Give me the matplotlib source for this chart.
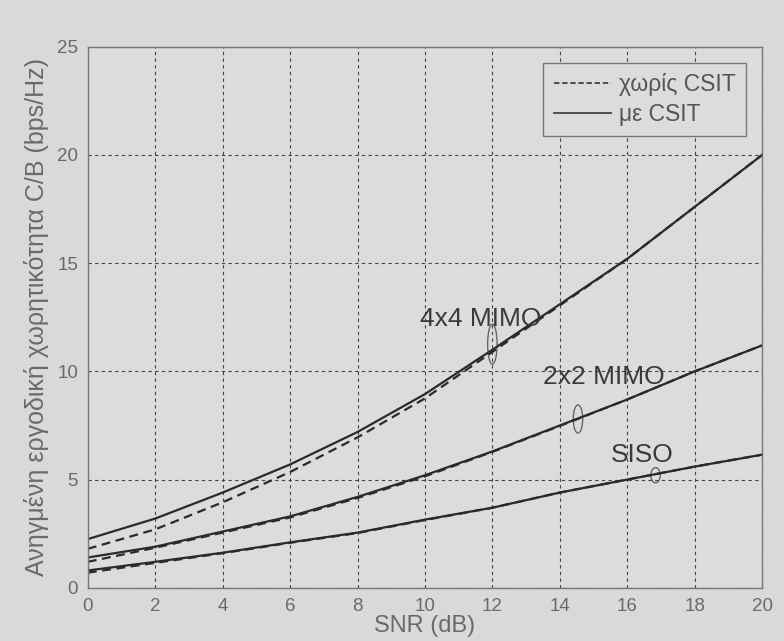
import matplotlib
matplotlib.use('Agg')
import matplotlib.pyplot as plt
from matplotlib.patches import Ellipse

# SNR (dB)
snr = [0, 2, 4, 6, 8, 10, 12, 14, 16, 18, 20]

# with CSIT (solid)
mimo4_csit = [2.25, 3.2, 4.4, 5.7, 7.2, 8.95, 11.0, 13.1, 15.2, 17.6, 20.0]
mimo2_csit = [1.4, 1.9, 2.6, 3.3, 4.2, 5.2, 6.3, 7.5, 8.7, 10.0, 11.2]
siso_csit = [0.8, 1.2, 1.62, 2.1, 2.55, 3.15, 3.7, 4.4, 5.0, 5.6, 6.15]

# without CSIT (dashed)
mimo4_no = [1.8, 2.7, 3.95, 5.35, 6.95, 8.75, 10.9, 13.05, 15.2, 17.6, 20.0]
mimo2_no = [1.2, 1.85, 2.55, 3.25, 4.15, 5.15, 6.28, 7.48, 8.7, 10.0, 11.2]
siso_no = [0.7, 1.15, 1.6, 2.08, 2.53, 3.13, 3.7, 4.4, 5.0, 5.6, 6.15]

# annotation labels: (text, x, y) and ellipse markers: (x, y, height)
labels = [('4x4 MIMO', 9.85, 12.1), ('2x2 MIMO', 13.5, 9.4), ('SISO', 15.5, 5.8)]
rings = [(12.0, 11.26, 1.85), (14.54, 7.8, 1.3), (16.84, 5.2, 0.7)]

ink = '#2a2a2a'
txt = '#6a6a6a'
plt.rcParams['font.family'] = ['Liberation Sans', 'DejaVu Sans']

fig = plt.figure(figsize=(7.84, 6.41), dpi=100, facecolor='#d9d9d7')
ax = fig.add_axes([0.112, 0.083, 0.86, 0.844])
ax.set_facecolor('#dcdcda')

for y_no, y_cs in [(mimo4_no, mimo4_csit), (mimo2_no, mimo2_csit), (siso_no, siso_csit)]:
    ax.plot(snr, y_no, color=ink, lw=1.6, linestyle=(0, (4, 2.5)))
    ax.plot(snr, y_cs, color=ink, lw=1.6)

# legend proxies
ax.plot([], [], color='#444444', lw=1.3, linestyle=(0, (3, 1.5)), label='χωρίς CSIT')
ax.plot([], [], color='#444444', lw=1.3, label='με CSIT')
leg = ax.legend(loc='upper right', fontsize=16.5, fancybox=False, framealpha=1,
                edgecolor='#777777', handlelength=2.5, handletextpad=0.35,
                labelcolor='#555555', borderaxespad=0.7, borderpad=0.45,
                labelspacing=0.3)
leg.get_frame().set_facecolor('#dcdcda')
leg.get_frame().set_linewidth(1.0)

for s, x, y in labels:
    ax.text(x, y, s, fontsize=19, color='#3a3a3a')
for cx, cy, h in rings:
    ax.add_patch(Ellipse((cx, cy), 0.28, h, fill=False, edgecolor='#666666', lw=1.0))

ax.set_xlim(0, 20)
ax.set_ylim(0, 25)
ax.set_xticks(range(0, 21, 2))
ax.set_yticks(range(0, 26, 5))
ax.grid(True, color='#444444', linestyle=(0, (3, 3)), lw=0.8)
ax.tick_params(labelsize=13.5, colors=txt, length=0, pad=7)
for s in ax.spines.values():
    s.set_color('#777777')
    s.set_linewidth(1.0)

ax.set_xlabel('SNR (dB)', fontsize=17, color=txt, labelpad=0)
ax.set_ylabel('Ανηγμένη εργοδική χωρητικότητα C/B (bps/Hz)', fontsize=18,
              color=txt, labelpad=6)

fig.savefig('out.png', dpi=100, facecolor=fig.get_facecolor())
